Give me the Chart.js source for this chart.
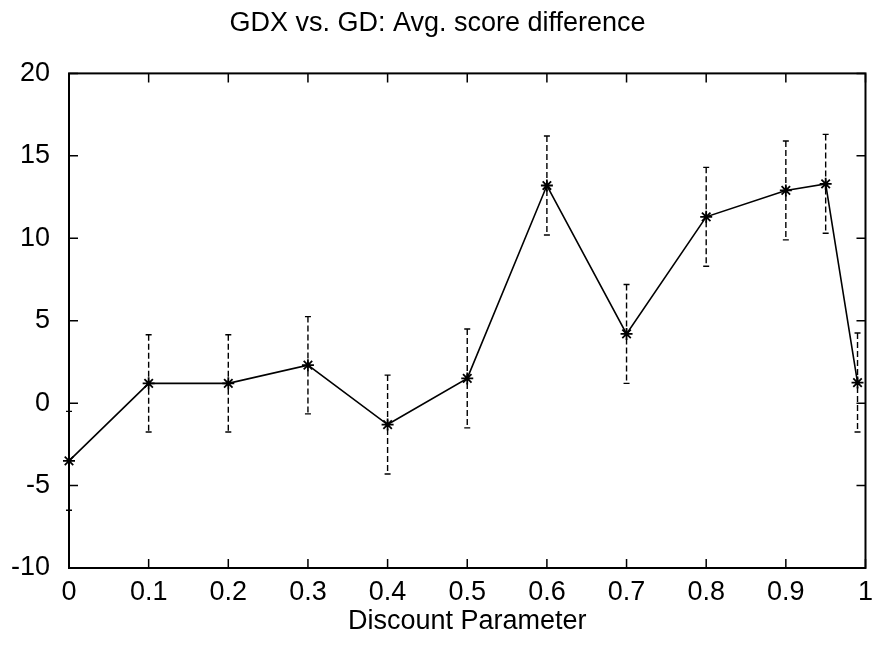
<!DOCTYPE html>
<html lang="en">
<head>
    <meta charset="UTF-8" />
    <title>GDX vs. GD</title>
    <script src="https://cdn.jsdelivr.net/npm/chart.js"></script>
    <style>
        body { margin: 0; background: #fff; }
        #wrap { width: 881px; height: 650px; }
    </style>
</head>
<body>
    <div id="wrap"><canvas id="scoreChart"></canvas></div>

    <script>
        // discount parameter values and the average score difference at each
        const discount = [0, 0.1, 0.2, 0.3, 0.4, 0.5, 0.6, 0.7, 0.8, 0.9, 0.95, 0.99];
        const scoreDiff = [-3.5, 1.2, 1.2, 2.3, -1.3, 1.5, 13.2, 4.2, 11.3, 12.9, 13.3, 1.25];
        const errorSize = [3, 2.95, 2.95, 2.95, 3, 3, 3, 3, 3, 3, 3, 3];

        const xTicks = [0, 0.1, 0.2, 0.3, 0.4, 0.5, 0.6, 0.7, 0.8, 0.9, 1];
        const yTicks = [-10, -5, 0, 5, 10, 15, 20];

        const FONT = "'Liberation Sans', Arial, Helvetica, sans-serif";
        Chart.defaults.color = '#000';
        Chart.defaults.font.family = FONT;

        const points = discount.map((d, i) => ({ x: d, y: scoreDiff[i] }));

        // dashed error bars, drawn below the line
        const errorBars = {
            id: 'errorBars',
            beforeDatasetsDraw(chart) {
                const ctx = chart.ctx;
                const xs = chart.scales.x, ys = chart.scales.y;
                ctx.save();
                ctx.strokeStyle = '#000';
                ctx.lineWidth = 1.4;
                discount.forEach((d, i) => {
                    const px = xs.getPixelForValue(d);
                    const top = ys.getPixelForValue(scoreDiff[i] + errorSize[i]);
                    const bot = ys.getPixelForValue(scoreDiff[i] - errorSize[i]);
                    ctx.setLineDash([6, 3]);
                    ctx.beginPath();
                    ctx.moveTo(px, top);
                    ctx.lineTo(px, bot);
                    ctx.stroke();
                    ctx.setLineDash([]);
                    ctx.beginPath();
                    ctx.moveTo(px - 3, top); ctx.lineTo(px + 3, top);
                    ctx.moveTo(px - 3, bot); ctx.lineTo(px + 3, bot);
                    ctx.stroke();
                });
                ctx.restore();
            }
        };

        // box around the plot with inward ticks on every side
        const frame = {
            id: 'frame',
            afterDraw(chart) {
                const { ctx, chartArea: a } = chart;
                const xs = chart.scales.x, ys = chart.scales.y;
                const len = 9;
                ctx.save();
                ctx.strokeStyle = '#000';
                ctx.lineWidth = 1.5;
                ctx.beginPath();
                xTicks.forEach(t => {
                    const px = xs.getPixelForValue(t);
                    ctx.moveTo(px, a.bottom); ctx.lineTo(px, a.bottom - len);
                    ctx.moveTo(px, a.top); ctx.lineTo(px, a.top + len);
                });
                yTicks.forEach(t => {
                    const py = ys.getPixelForValue(t);
                    ctx.moveTo(a.left, py); ctx.lineTo(a.left + len, py);
                    ctx.moveTo(a.right, py); ctx.lineTo(a.right - len, py);
                });
                ctx.stroke();
                ctx.lineWidth = 2;
                ctx.strokeRect(a.left, a.top, a.right - a.left, a.bottom - a.top);
                ctx.restore();
            }
        };

        new Chart(document.getElementById('scoreChart'), {
            type: 'line',
            data: {
                datasets: [{
                    label: 'Avg. score difference',
                    data: points,
                    borderColor: '#000',
                    borderWidth: 1.6,
                    pointStyle: 'star',
                    pointRadius: 6,
                    pointBorderWidth: 1.8,
                    pointBorderColor: '#000',
                    pointBackgroundColor: '#000',
                    tension: 0,
                    clip: false
                }]
            },
            options: {
                responsive: true,
                maintainAspectRatio: false,
                animation: false,
                layout: { padding: { left: 0, right: 6, top: 0, bottom: 0 } },
                plugins: {
                    legend: { display: false },
                    tooltip: { enabled: false },
                    title: {
                        display: true,
                        text: 'GDX vs. GD: Avg. score difference',
                        font: { size: 27, weight: 'normal', family: FONT },
                        padding: { top: 7, bottom: 34 }
                    }
                },
                scales: {
                    x: {
                        type: 'linear',
                        min: 0,
                        max: 1,
                        afterFit(scale) { scale.height = 82; },
                        afterBuildTicks(scale) { scale.ticks = xTicks.map(v => ({ value: v })); },
                        ticks: {
                            font: { size: 27, family: FONT },
                            padding: 8,
                            maxRotation: 0,
                            autoSkip: false,
                            callback: v => String(v)
                        },
                        grid: { display: false, drawTicks: false },
                        border: { display: false },
                        title: {
                            display: true,
                            text: 'Discount Parameter',
                            font: { size: 27, family: FONT },
                            padding: { top: 0, bottom: 12 }
                        }
                    },
                    y: {
                        min: -10,
                        max: 20,
                        afterFit(scale) { scale.width = 69; },
                        afterBuildTicks(scale) { scale.ticks = yTicks.map(v => ({ value: v })); },
                        ticks: {
                            font: { size: 27, family: FONT },
                            padding: 19,
                            callback: v => String(v)
                        },
                        grid: { display: false, drawTicks: false },
                        border: { display: false }
                    }
                }
            },
            plugins: [errorBars, frame]
        });
    </script>
</body>
</html>
